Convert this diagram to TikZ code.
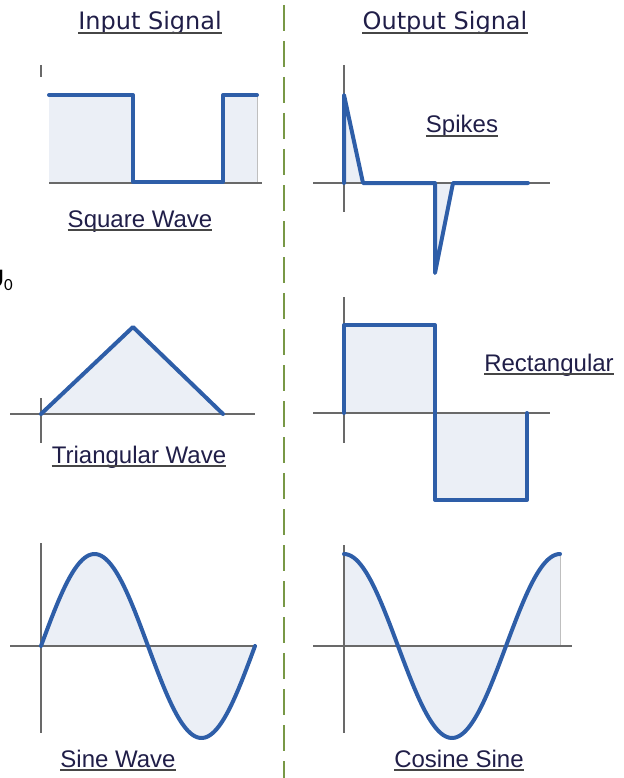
\documentclass[tikz,border=0pt]{standalone}
\usepackage{fontspec}
\setmainfont{Liberation Sans}
\newfontfamily\headfont{DejaVu Sans}
\newfontfamily\symfont{Carlito}
\definecolor{wave}{RGB}{46,94,168}
\definecolor{wavefill}{RGB}{235,239,246}
\definecolor{axisgray}{RGB}{105,105,105}
\definecolor{divgreen}{RGB}{120,152,70}
\definecolor{txt}{RGB}{32,30,72}
\definecolor{ulgray}{RGB}{70,70,70}
\tikzset{
  wavefilled/.style={fill=wavefill},
  axis/.style={draw=axisgray, line width=1.8pt},
  signal/.style={draw=wave, line width=4pt, line join=round, line cap=round},
  label/.style={font=\fontsize{24}{28}\selectfont, text=txt, anchor=base, inner sep=0pt},
  header/.style={label, font=\headfont\fontsize{24}{28}\selectfont},
  uline/.style={draw=ulgray, line width=1.8pt}
}
\begin{document}
\begin{tikzpicture}[x=1pt, y=-1pt]
        \useasboundingbox (0,0) rectangle (623,778);

        % Divider
        \draw[divgreen, line width=2.6pt, dash pattern=on 26pt off 10pt] (284,5) -- (284,778);

        % Headers
        \node[header] (insig) at (150,30) {Input Signal};
        \node[header] (outsig) at (445,30) {Output Signal};
        \draw[uline] ([yshift=-3pt]insig.base west) -- ([yshift=-3pt]insig.base east);
        \draw[uline] ([yshift=-3pt]outsig.base west) -- ([yshift=-3pt]outsig.base east);

        % Side symbol
        \node[anchor=base east, inner sep=0pt, font=\symfont\fontsize{27}{30}\selectfont] (u0) at (13,287) {U\raisebox{-3pt}{\fontsize{17}{17}\selectfont 0}};

        % Square wave
        \fill[wavefilled] (49,95) rectangle (133,183);
        \fill[wavefilled] (223,95) rectangle (257,183);
        \draw[gray!50, line width=0.8pt] (257,95) -- (257,183);
        \draw[axis] (41,65) -- (41,77);
        \draw[axis] (49,183) -- (262,183);
        \draw[signal] (49,95) -- (133,95) -- (133,182) -- (223,182) -- (223,95) -- (257,95);
        \node[label] (square) at (140,227) {Square Wave};
        \draw[uline] ([yshift=-3pt]square.base west) -- ([yshift=-3pt]square.base east);

        % Spikes
        \fill[wavefilled] (344,95) -- (363,183) -- (344,183) -- cycle;
        \fill[wavefilled] (435,183) -- (435,273) -- (453,183) -- cycle;
        \draw[axis] (344,65) -- (344,212);
        \draw[axis] (313,183) -- (550,183);
        \draw[signal] (344,183) -- (344,95) -- (363,183) -- (435,183) -- (435,273) -- (453,183) -- (528,183);
        \node[label] (spikes) at (462,133) {Spikes};
        \draw[uline] ([yshift=-3pt]spikes.base west) -- ([yshift=-3pt]spikes.base east);

        % Triangular wave
        \fill[wavefilled] (41,414) -- (133,327) -- (223,414) -- cycle;
        \draw[axis] (41,398) -- (41,443);
        \draw[axis] (10,414) -- (255,414);
        \draw[signal] (41,414) -- (133,327) -- (223,414);
        \node[label] (triangle) at (139,463) {Triangular Wave};
        \draw[uline] ([yshift=-3pt]triangle.base west) -- ([yshift=-3pt]triangle.base east);

        % Rectangular
        \fill[wavefilled] (344,325) rectangle (435,413);
        \fill[wavefilled] (435,413) rectangle (527,500);
        \draw[axis] (344,297) -- (344,443);
        \draw[axis] (313,413) -- (550,413);
        \draw[signal] (344,413) -- (344,325) -- (435,325) -- (435,500) -- (527,500) -- (527,413);
        \node[label] (rect) at (549,371) {Rectangular};
        \draw[uline] ([yshift=-3pt]rect.base west) -- ([yshift=-3pt]rect.base east);

        % Sine wave
        \fill[wavefilled] (41,646) -- plot[domain=0:214, samples=90, smooth] ({41+\x},{646-92*sin(\x/214*360)}) -- cycle;
        \draw[axis] (41,543) -- (41,733);
        \draw[axis] (10,646) -- (253,646);
        \draw[signal] plot[domain=0:214, samples=90, smooth] ({41+\x},{646-92*sin(\x/214*360)});
        \node[label] (sine) at (118,767) {Sine Wave};
        \draw[uline] ([yshift=-3pt]sine.base west) -- ([yshift=-3pt]sine.base east);

        % Cosine wave
        \fill[wavefilled] (344,646) -- plot[domain=0:216, samples=90, smooth] ({344+\x},{646-92*cos(\x/216*360)}) -- (560,646) -- cycle;
        \draw[gray!50, line width=0.8pt] (560,554) -- (560,646);
        \draw[axis] (344,545) -- (344,733);
        \draw[axis] (313,646) -- (572,646);
        \draw[signal] plot[domain=0:216, samples=90, smooth] ({344+\x},{646-92*cos(\x/216*360)});
        \node[label] (cosine) at (459,767) {Cosine Sine};
        \draw[uline] ([yshift=-3pt]cosine.base west) -- ([yshift=-3pt]cosine.base east);
\end{tikzpicture}
\end{document}
